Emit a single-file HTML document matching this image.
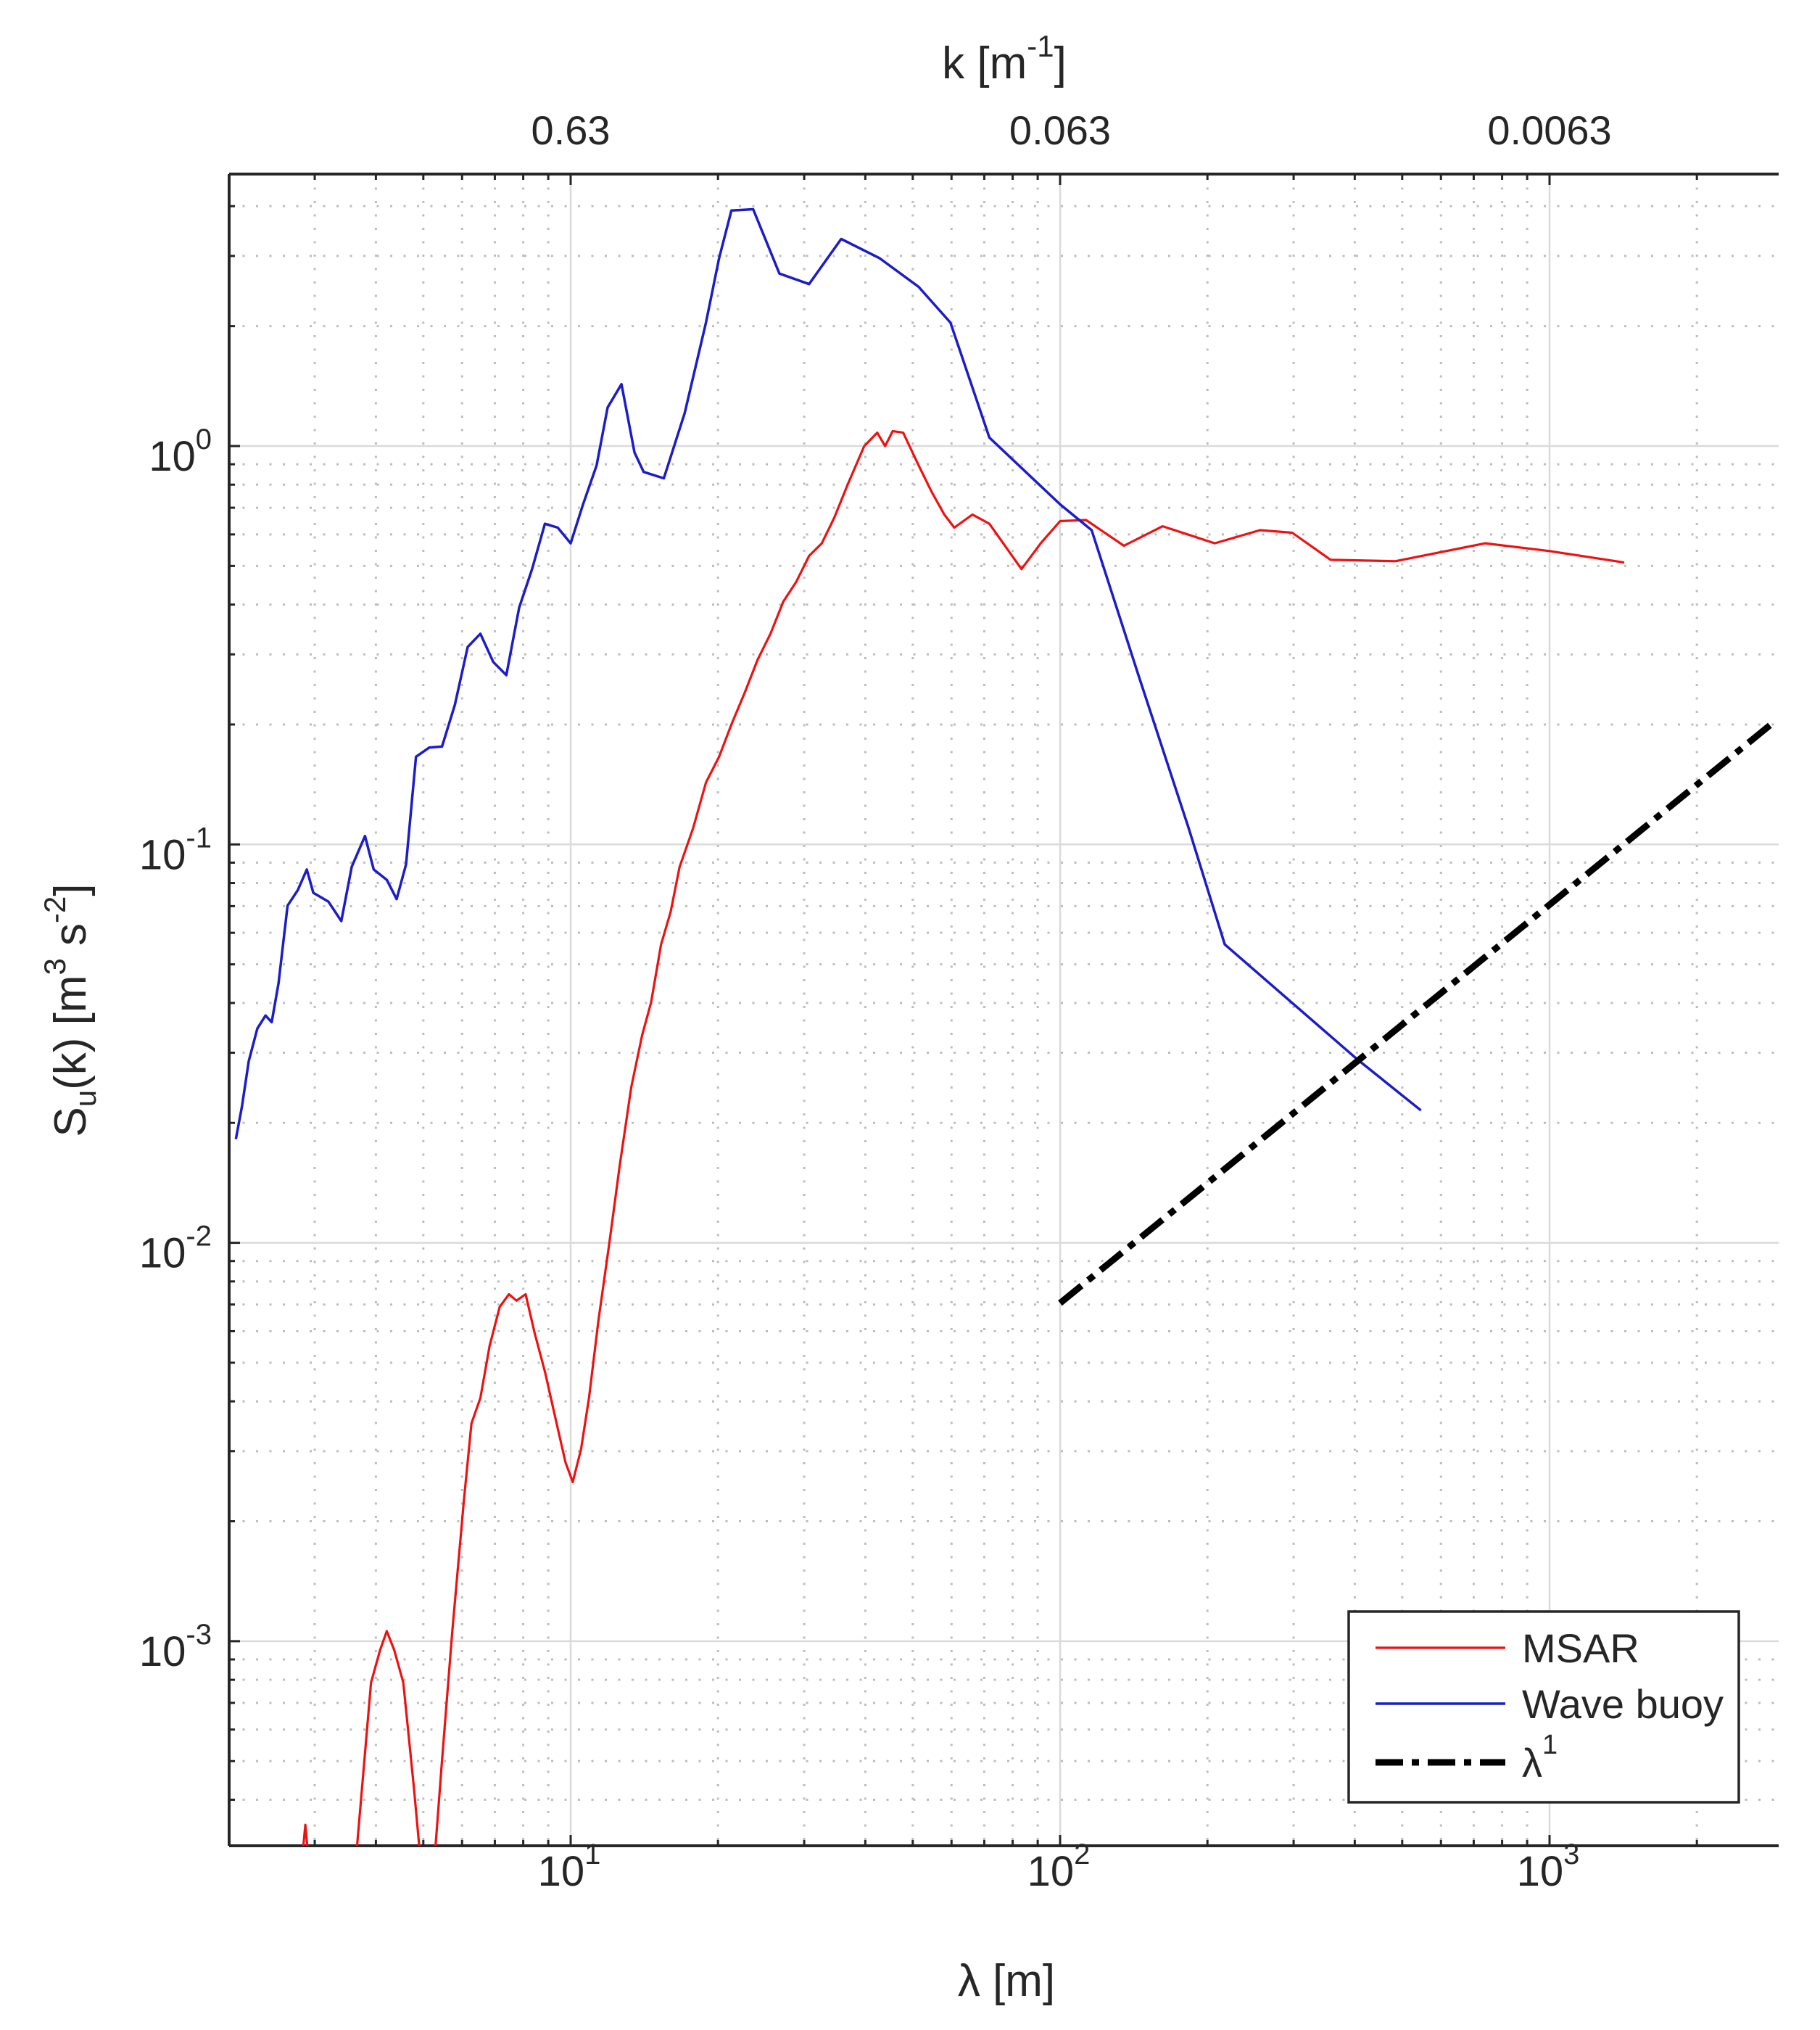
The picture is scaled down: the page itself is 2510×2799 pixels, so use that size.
<!DOCTYPE html>
<html><head><meta charset="utf-8"><style>
html,body{margin:0;padding:0;background:#fff;}
svg{display:block;font-family:"Liberation Sans",Arial,sans-serif;}
</style></head><body>
<svg id="chart" width="2510" height="2799" viewBox="0 0 2510 2799" xmlns="http://www.w3.org/2000/svg"></svg>
<script>
// ---- data ----
const buoyLambda=[2.07,2.13,2.20,2.29,2.38,2.45,2.53,2.64,2.77,2.89,2.98,3.20,3.40,3.57,3.80,3.96,4.21,4.41,4.61,4.83,5.14,5.46,5.80,6.16,6.54,6.95,7.39,7.85,8.34,8.86,9.41,10,10.6,11.3,11.9,12.7,13.5,14.1,15.5,17.1,18.9,20.1,21.3,23.6,26.7,30.7,35.7,42.8,51.4,59.7,71.7,100,116,144,183,217,403,546];
const buoyS=[0.0182,0.022,0.0286,0.0345,0.0372,0.0358,0.0448,0.0702,0.0768,0.0865,0.0756,0.0718,0.0642,0.0879,0.105,0.0865,0.0815,0.0729,0.0891,0.166,0.175,0.176,0.224,0.313,0.338,0.287,0.266,0.393,0.491,0.638,0.624,0.570,0.714,0.894,1.25,1.43,0.964,0.861,0.830,1.21,2.04,2.96,3.90,3.93,2.71,2.55,3.31,2.96,2.51,2.04,1.05,0.714,0.615,0.270,0.110,0.0561,0.0290,0.0215];
const msarLambda=[2.80,2.87,2.94,3.61,3.75,3.91,4.08,4.21,4.36,4.55,4.78,4.98,5.23,5.46,5.73,6.05,6.27,6.54,6.83,7.16,7.48,7.75,8.09,8.44,8.86,9.30,9.76,10.1,10.5,10.9,11.4,12.0,12.6,13.3,14.0,14.6,15.3,16.0,16.7,17.8,18.9,20.1,21.3,22.7,24.1,25.6,27.2,28.9,30.7,32.6,34.6,36.8,39.8,42.3,43.9,45.5,47.8,51.4,54.6,58.0,60.8,66.2,71.7,83.4,91.3,100,113,135,162,207,256,298,357,484,739,1000,1421];
const msarS=[2.5e-4,3.46e-4,2.5e-4,2.5e-4,4.33e-4,7.87e-4,9.5e-4,1.06e-3,9.5e-4,7.87e-4,4.33e-4,2.5e-4,2.5e-4,5.02e-4,1.06e-3,2.25e-3,3.52e-3,4.08e-3,5.51e-3,6.90e-3,7.43e-3,7.16e-3,7.43e-3,5.94e-3,4.75e-3,3.65e-3,2.81e-3,2.51e-3,3.03e-3,4.08e-3,6.40e-3,0.0100,0.0157,0.0246,0.0332,0.0401,0.0561,0.0676,0.0879,0.110,0.143,0.166,0.200,0.241,0.291,0.338,0.407,0.456,0.530,0.570,0.663,0.799,1.0,1.08,1.0,1.09,1.08,0.894,0.769,0.673,0.624,0.673,0.638,0.491,0.570,0.648,0.652,0.562,0.629,0.570,0.615,0.606,0.518,0.514,0.570,0.545,0.510];
const refLambda=[100,2900];
const refCoef=7.06e-5;
const refExp=1;
const xTickVals=[10,100,1000];
const xTickExp=["1","2","3"];
const yTickVals=[1,0.1,0.01,0.001];
const yTickExp=["0","-1","-2","-3"];
const kTickVals=[10,100,1000];
const kTickLabels=["0.63","0.063","0.0063"];
// ---- axes ----
const L=316,R=2453,T=240,B=2545;
const X10=787,XDEC=675,Y1=615,YDEC=549.3;
const xmin=Math.pow(10,1-(X10-L)/XDEC), xmax=Math.pow(10,1+(R-X10)/XDEC);
const ymax=Math.pow(10,(Y1-T)/YDEC), ymin=Math.pow(10,-(B-Y1)/YDEC);
const sx=v=>X10+(Math.log10(v)-1)*XDEC;
const sy=v=>Y1-Math.log10(v)*YDEC;
const NS="http://www.w3.org/2000/svg";
const svg=document.getElementById('chart');
function mk(tag,attrs,parent){const e=document.createElementNS(NS,tag);for(const k in attrs)e.setAttribute(k,attrs[k]);(parent||svg).appendChild(e);return e;}
const defs=mk('defs',{});
const cp=mk('clipPath',{id:'plotclip'},defs);
mk('rect',{x:L,y:T,width:R-L,height:B-T},cp);
// grid
const grid=mk('g',{});


for(let d=0;d<=3;d++){for(let m=1;m<10;m++){const v=m*Math.pow(10,d);if(v<xmin||v>xmax)continue;const x=sx(v);
 if(m===1){mk('line',{x1:x,y1:T,x2:x,y2:B,stroke:'#dadada','stroke-width':2.5},grid);}
 else{mk('line',{x1:x,y1:T,x2:x,y2:B,stroke:'#bdbdbd','stroke-width':3,'stroke-dasharray':'3 15.5'},grid);}}}
for(let d=-4;d<=0;d++){for(let m=1;m<10;m++){const v=m*Math.pow(10,d);if(v<ymin||v>ymax)continue;const y=sy(v);
 if(m===1){mk('line',{x1:L,y1:y,x2:R,y2:y,stroke:'#dadada','stroke-width':2.5},grid);}
 else{mk('line',{x1:L,y1:y,x2:R,y2:y,stroke:'#bdbdbd','stroke-width':3,'stroke-dasharray':'3 15.5'},grid);}}}
// axes lines and ticks
const ax=mk('g',{stroke:'#262626','stroke-width':4});


mk('line',{x1:L,y1:T,x2:R,y2:T},ax);
mk('line',{x1:L,y1:B,x2:R,y2:B},ax);
mk('line',{x1:L,y1:T,x2:L,y2:B},ax);
for(let d=0;d<=3;d++){for(let m=1;m<10;m++){const v=m*Math.pow(10,d);if(v<xmin||v>xmax)continue;const x=sx(v);const len=m===1?15:8;
 mk('line',{x1:x,y1:B,x2:x,y2:B-len,'stroke-width':3},ax);mk('line',{x1:x,y1:T,x2:x,y2:T+len,'stroke-width':3},ax);}}
for(let d=-4;d<=0;d++){for(let m=1;m<10;m++){const v=m*Math.pow(10,d);if(v<ymin||v>ymax)continue;const y=sy(v);const len=m===1?15:8;
 mk('line',{x1:L,y1:y,x2:L+len,y2:y,'stroke-width':3},ax);}}
// tick labels
xTickVals.forEach((v,i)=>{const t=mk('text',{x:sx(v)-2,y:2600,'font-size':58,fill:'#262626','text-anchor':'middle'});
 
 
 t.textContent='10';const s=mk('tspan',{'font-size':40,dy:-30},t);s.textContent=xTickExp[i];});
yTickVals.forEach((v,i)=>{const t=mk('text',{x:292,y:sy(v)+34,'font-size':58,fill:'#262626','text-anchor':'end'});
 
 
 t.textContent='10';const s=mk('tspan',{'font-size':40,dy:-30},t);s.textContent=yTickExp[i];});
kTickVals.forEach((v,i)=>{const t=mk('text',{x:sx(v),y:199,'font-size':56,fill:'#262626','text-anchor':'middle'});
 
 
 t.textContent=kTickLabels[i];});
// axis titles
const kt=mk('text',{x:1385,y:108,'font-size':62,fill:'#262626','text-anchor':'middle'});


kt.innerHTML='k [m<tspan font-size="42" dy="-30">-1</tspan><tspan dy="30">]</tspan>';
const xt=mk('text',{x:1388,y:2752,'font-size':62,fill:'#262626','text-anchor':'middle'});


xt.textContent='λ [m]';
const yt=mk('text',{x:0,y:0,'font-size':62,fill:'#262626','text-anchor':'middle',transform:'translate(118,1393) rotate(-90)'});


yt.innerHTML='S<tspan font-size="42" dy="14">u</tspan><tspan dy="-14">(k) [m</tspan><tspan font-size="42" dy="-28">3</tspan><tspan dy="28"> s</tspan><tspan font-size="42" dy="-28">-2</tspan><tspan dy="28">]</tspan>';
// series
const plot=mk('g',{'clip-path':'url(#plotclip)',fill:'none'});
function pts(xs,ys){return xs.map((x,i)=>sx(x).toFixed(1)+','+sy(ys[i]).toFixed(1)).join(' ');}
const msar=mk('polyline',{points:pts(msarLambda,msarS),stroke:'#ee1111','stroke-width':3.2,'stroke-linejoin':'round'},plot);


const buoy=mk('polyline',{points:pts(buoyLambda,buoyS),stroke:'#1c1cc8','stroke-width':3.5,'stroke-linejoin':'round'},plot);


const refS=refLambda.map(l=>refCoef*Math.pow(l,refExp));
const ref=mk('polyline',{points:pts(refLambda,refS),stroke:'#000','stroke-width':9,'stroke-dasharray':'38 12 10 12'},plot);


// legend
const lg=mk('g',{});


mk('rect',{x:1860,y:2222,width:538,height:263,fill:'#fff',stroke:'#262626','stroke-width':3.5},lg);
const entries=[['MSAR','#ee1111',3.2,null],['Wave buoy','#1c1cc8',3.5,null],['λ','#000',9,'38 12 10 12']];
entries.forEach((e,i)=>{const y=[2272,2349,2430][i];
 const g=mk('g',{},lg);
 
 
 const a={x1:1897,y1:y,x2:2076,y2:y,stroke:e[1],'stroke-width':e[2]};if(e[3])a['stroke-dasharray']=e[3];mk('line',a,g);
 const t=mk('text',{x:2099,y:y+20,'font-size':56,fill:'#262626'},g);t.textContent=e[0];
 if(i===2){const s=mk('tspan',{'font-size':38,dy:-32},t);s.textContent='1';}
});
</script>
</body></html>
